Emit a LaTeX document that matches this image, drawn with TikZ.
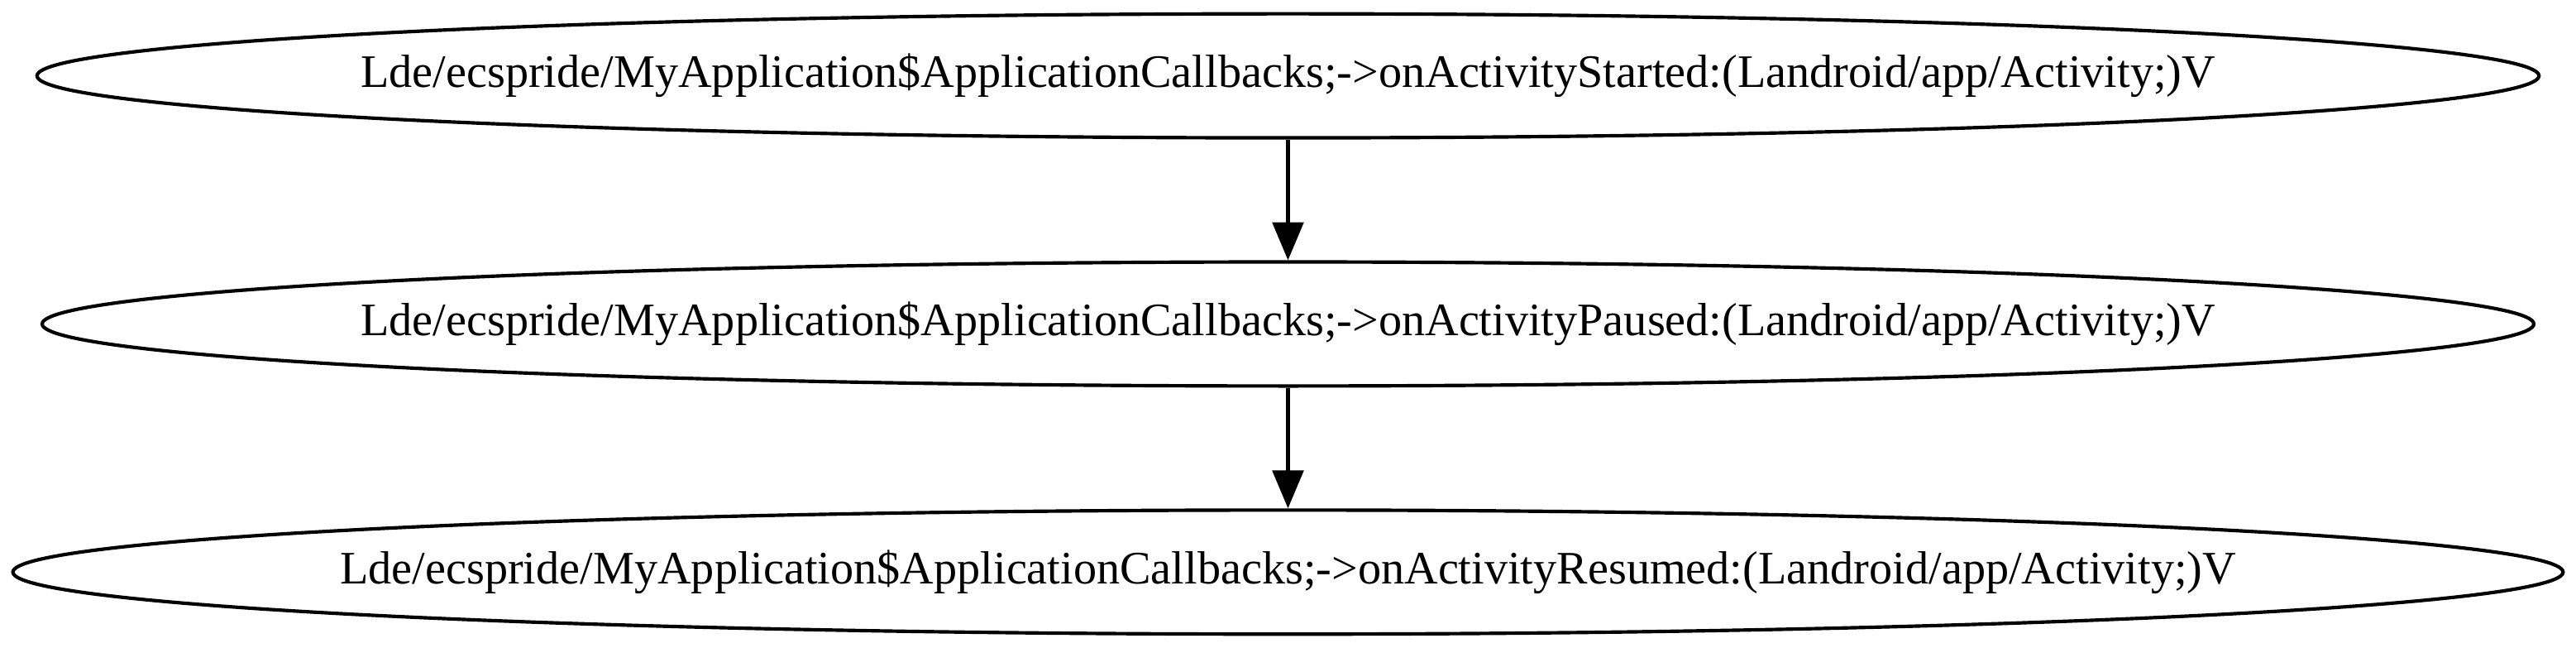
\documentclass[tikz,border=0pt]{standalone}
\usepackage{fontspec}
\setmainfont{Liberation Serif}
\usetikzlibrary{shapes.geometric,arrows.meta}
\tikzset{
  cb/.style={draw,ellipse,line width=1pt,minimum height=36pt,inner sep=0pt,font=\fontsize{13.5}{16}\selectfont},
  flow/.style={-{Triangle[length=11pt,width=9pt]},line width=1pt}
}
\begin{document}
\begin{tikzpicture}
\useasboundingbox (0,0) rectangle (748pt,188pt);
\node[cb,minimum width=726.5pt] (started) at (374pt,166pt) {\makebox[0pt]{Lde/ecspride/MyApplication\$ApplicationCallbacks;->onActivityStarted:(Landroid/app/Activity;)V}};
\node[cb,minimum width=723.5pt] (paused) at (374pt,94pt) {\makebox[0pt]{Lde/ecspride/MyApplication\$ApplicationCallbacks;->onActivityPaused:(Landroid/app/Activity;)V}};
\node[cb,minimum width=740.5pt] (resumed) at (374pt,22pt) {\makebox[0pt]{Lde/ecspride/MyApplication\$ApplicationCallbacks;->onActivityResumed:(Landroid/app/Activity;)V}};
\draw[flow] (started) -- (paused);
\draw[flow] (paused) -- (resumed);
\end{tikzpicture}
\end{document}
